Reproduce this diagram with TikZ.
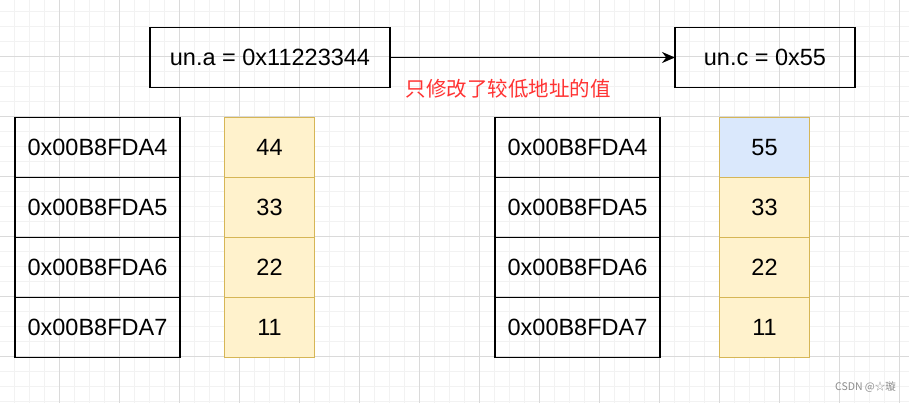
\documentclass[tikz,border=0pt]{standalone}
\usepackage{xcolor}
\usepackage{fontspec}
\setmainfont{Liberation Sans}
\newfontfamily\cjk{Noto Sans CJK SC}
\usepackage{tikz}
\usetikzlibrary{arrows.meta, positioning}
\definecolor{cellfill}{HTML}{FFF2CC}
\definecolor{cellline}{HTML}{D6B656}
\definecolor{lowfill}{HTML}{DAE8FC}
\definecolor{gridminor}{HTML}{F2F2F2}
\definecolor{gridmajor}{HTML}{DADADA}
\definecolor{notered}{HTML}{FF3333}

\begin{document}
\begin{tikzpicture}[
  x=1pt, y=-1pt,
  node distance=0pt,
  addr/.style={rectangle, draw, line width=1.5pt, minimum width=165pt, minimum height=60pt, outer sep=0pt, inner sep=0pt, font=\fontsize{23.5}{28}\selectfont},
  byte/.style={rectangle, draw=cellline, fill=cellfill, line width=1pt, minimum width=90pt, minimum height=60pt, outer sep=0pt, inner sep=0pt, font=\fontsize{23.5}{28}\selectfont},
  var/.style={addr, minimum width=240pt},
  arr/.style={-{Stealth[length=13pt, width=11pt]}, line width=1.5pt},
]
\useasboundingbox[fill=white] (0,0) rectangle (909,403);

% background grid
\foreach \gx in {14.5,29.5,...,899.5} \draw[gridminor, line width=1pt] (\gx,0) -- (\gx,403);
\foreach \gy in {11.5,26.5,...,401.5} \draw[gridminor, line width=1pt] (0,\gy) -- (909,\gy);
\foreach \gx in {59.5,119.5,...,899.5} \draw[gridmajor, line width=1pt] (\gx,0) -- (\gx,403);
\foreach \gy in {56.5,116.5,...,356.5} \draw[gridmajor, line width=1pt] (0,\gy) -- (909,\gy);

% union members
\node[var] (una) at (270,57.5) {un.a = 0x11223344};
\node[var, minimum width=180pt] (unc) at (765,57.5) {un.c = 0x55};
\node[text=notered, font=\cjk\fontsize{20.5}{24}\selectfont] (note) at (508,89) {只修改了较低地址的值};

% memory before
\node[addr] (la4) at (97.5,147.5) {0x00B8FDA4};
\node[addr, below=of la4] (la5) {0x00B8FDA5};
\node[addr, below=of la5] (la6) {0x00B8FDA6};
\node[addr, below=of la6] (la7) {0x00B8FDA7};
\node[byte] (lv4) at (269.5,147.5) {44};
\node[byte, below=of lv4] (lv5) {33};
\node[byte, below=of lv5] (lv6) {22};
\node[byte, below=of lv6] (lv7) {11};

% memory after
\node[addr] (ra4) at (577.5,147.5) {0x00B8FDA4};
\node[addr, below=of ra4] (ra5) {0x00B8FDA5};
\node[addr, below=of ra5] (ra6) {0x00B8FDA6};
\node[addr, below=of ra6] (ra7) {0x00B8FDA7};
\node[byte, fill=lowfill] (rv4) at (764.5,147.5) {55};
\node[byte, below=of rv4] (rv5) {33};
\node[byte, below=of rv5] (rv6) {22};
\node[byte, below=of rv6] (rv7) {11};

\draw[arr] (una) -- (unc);

\node[text=black!45, font=\cjk\fontsize{10.5}{12}\selectfont] (csdn) at (865.5,387) {CSDN @☆璇};
\end{tikzpicture}
\end{document}
